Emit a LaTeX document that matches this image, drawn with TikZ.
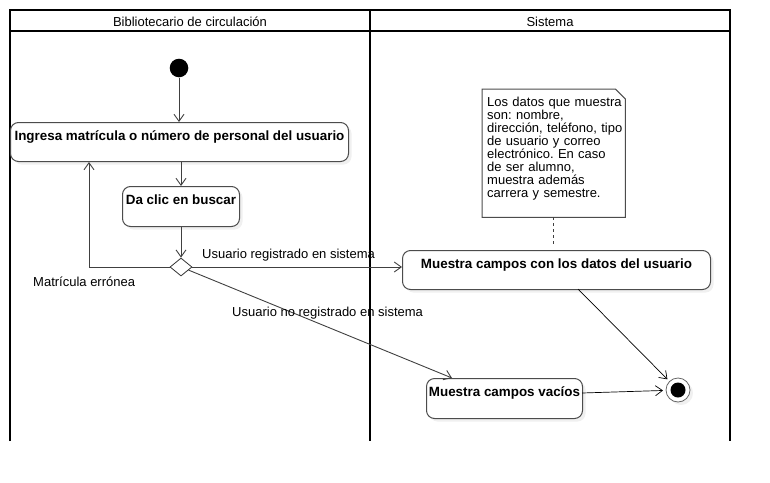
\documentclass[tikz,border=0pt]{standalone}
\usepackage{fontspec}
\setmainfont{Liberation Sans}
\usetikzlibrary{arrows.meta,shapes.geometric,shadows,calc}
\frenchspacing
\begin{document}
\begin{tikzpicture}[x=1pt,y=-1pt,
  lane/.style={line width=2pt,black},
  conn/.style={draw=black!75,line width=0.9pt},
  arr/.style={conn,-{Straight Barb[length=7pt,width=10pt]}},
  act/.style={draw=black!70,line width=1pt,rounded corners=8pt,fill=white,
    drop shadow={shadow xshift=3pt,shadow yshift=-3pt,opacity=0.12},
    font=\fontsize{13.4}{15}\selectfont\bfseries,inner xsep=0pt,inner ysep=2.5pt,
    text height=15.5pt,text depth=18.5pt,anchor=north west},
  lbl/.style={font=\fontsize{13}{15}\selectfont,inner sep=0pt,anchor=base west},
  hdr/.style={font=\fontsize{13}{15}\selectfont,inner sep=0pt,anchor=base},
]
\useasboundingbox (0,0) rectangle (770,482);
% swimlanes
\draw[lane] (10,441) -- (10,10) -- (730,10) -- (730,441);
\draw[lane] (10,31) -- (730,31);
\draw[lane] (370,10) -- (370,441);
\node[hdr] (h1) at (190,26) {Bibliotecario de circulación};
\node[hdr] (h2) at (550,26) {Sistema};

% nodes
\node[circle,fill=black,minimum size=18.6pt,inner sep=0pt] (start) at (179,68) {};
\node[act,minimum width=338pt] (ingresa) at (10,122) {Ingresa matrícula o número de personal del usuario};
\node[act,minimum width=117pt,text depth=19.5pt] (clic) at (122,186) {Da clic en buscar};
\node[diamond,draw=black!80,line width=0.8pt,fill=white,minimum width=22pt,minimum height=18pt,shape aspect=1.22,inner sep=0pt] (dia) at (181,267) {};
\node[act,minimum width=308pt] (datos) at (402,250) {Muestra campos con los datos del usuario};
\node[act,minimum width=156pt,text depth=19.5pt] (vacios) at (426,378) {Muestra campos vacíos};
\node[circle,draw=black!60,fill=white,line width=0.8pt,minimum size=24pt,inner sep=0pt,outer sep=3pt,
  drop shadow={shadow xshift=3pt,shadow yshift=-3pt,opacity=0.12}] (endc) at (678,390) {};
\node[circle,fill=black,minimum size=15pt,inner sep=0pt] (endin) at (endc) {};

% note
\node[minimum width=143pt,minimum height=128pt,inner sep=0pt,anchor=north west] (note) at (482,89) {};
\draw[draw=black!70,line width=1pt,fill=white]
  (note.north west) -- ($(note.north east)+(-10,0)$) -- ($(note.north east)+(0,10)$)
  -- (note.south east) -- (note.south west) -- cycle;
\node[anchor=north west,inner sep=0pt,text width=140pt,align=left,
  font=\fontsize{13}{13.1}\selectfont] (notetxt) at (487,96.5)
  {Los datos que muestra\\son: nombre,\\dirección, teléfono, tipo\\de usuario y correo\\electrónico. En caso\\de ser alumno,\\muestra además\\carrera y semestre.};

% helper coordinates
\coordinate (loopend) at (89,162);
\coordinate (d1) at (578,289);
\coordinate (v1) at (582,393);
\coordinate (vtop) at (452,378);

% connectors
\draw[arr] (start) -- (start |- ingresa.north);
\draw[arr] (ingresa.south -| clic.north) -- (clic.north);
\draw[arr] (clic.south -| dia.north) -- (dia.north);
\draw[arr] (dia.west) -| (loopend);
\draw[arr] (dia.east) -- (dia.east -| datos.west);
\draw[arr] (dia) -- (vtop);
\draw[conn,dash pattern=on 3pt off 3pt] (note.south) -- ($(note.south |- datos.north)+(0,-3)$);
\draw[arr,black,line width=0.7pt] (d1) -- (endc);
\draw[arr,black,line width=0.7pt] (v1) -- (endc);

% labels
\node[lbl] (l1) at (202,258) {Usuario registrado en sistema};
\node[lbl] (l2) at (33,286) {Matrícula errónea};
\node[lbl] (l3) at (232,316) {Usuario no registrado en sistema};
\end{tikzpicture}
\end{document}
